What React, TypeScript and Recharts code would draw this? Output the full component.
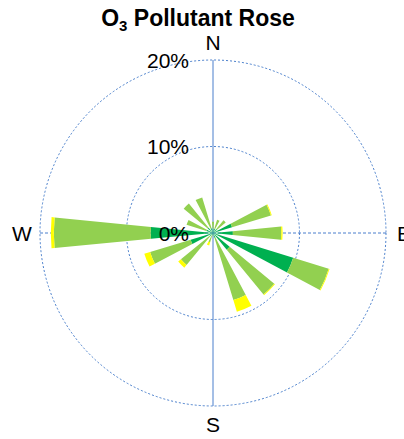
import React from 'react';
import { RadialBarChart, RadialBar, PolarAngleAxis, PolarRadiusAxis, PolarGrid } from 'recharts';

// 16 wind sectors, clockwise from north
const directions = ['N', 'NNE', 'NE', 'ENE', 'E', 'ESE', 'SE', 'SSE', 'S', 'SSW', 'SW', 'WSW', 'W', 'WNW', 'NW', 'NNW'];
// share of hours (%) in each concentration band, stacked outward
const lowBand = [0.5, 0.5, 0.6, 2.3, 2.3, 9.7, 2.5, 0.6, 0.2, 0.3, 0.5, 2.7, 7.2, 0.8, 0.8, 0.6];
const midBand = [0.8, 1.1, 1.3, 4.7, 5.6, 4.3, 6.7, 7.5, 0.2, 0.8, 4.3, 4.9, 11.2, 2.4, 3.6, 3.7];
const highBand = [0, 0, 0, 0.1, 0.15, 0.1, 0.1, 1.4, 0, 0.4, 0.4, 0.7, 0.35, 0, 0, 0];
const radiusTicks = [0, 10, 20];
const compassLabels = ['N', 'E', 'S', 'W'];

const rows = directions.map((dir, i) => ({
  dir,
  low: lowBand[i],
  mid: midBand[i],
  high: highBand[i],
}));

const CX = 213;
const CY = 233;
const FONT = '"Liberation Sans", Arial, sans-serif';
const GRID_BLUE = '#4A7FCC';
// half a sector: bars are centred on their direction, ticks sit at the band edge
const HALF_SECTOR = 360 / directions.length / 2;

function RadiusTick(props: any) {
  const { x, y, payload } = props;
  return (
    <text x={x - 24} y={y} textAnchor="end" dominantBaseline="central" fontSize={21} fontFamily={FONT} fill="#000">
      {payload.value}%
    </text>
  );
}

function CompassTick(props: any) {
  const { x, y, payload } = props;
  if (!compassLabels.includes(payload.value)) return <g />;
  const dx = x - CX;
  const dy = y - CY;
  const r = Math.hypot(dx, dy) + 10;
  const a = Math.atan2(-dy, dx) + (HALF_SECTOR * Math.PI) / 180;
  return (
    <text
      x={CX + r * Math.cos(a)}
      y={CY - r * Math.sin(a)}
      textAnchor="middle"
      dominantBaseline="central"
      fontSize={21}
      fontFamily={FONT}
      fill="#000"
    >
      {payload.value}
    </text>
  );
}

export default function App() {
  return (
    <div style={{ position: 'absolute', left: 0, top: 0, width: 404, height: 439, background: '#fff' }}>
      <div
        style={{
          position: 'absolute',
          left: 198,
          top: 7,
          transform: 'translateX(-50%)',
          whiteSpace: 'nowrap',
          fontFamily: FONT,
          fontWeight: 'bold',
          fontSize: 23,
          lineHeight: '23px',
        }}
      >
        O<span style={{ fontSize: 15, position: 'relative', top: 5 }}>3</span> Pollutant Rose
      </div>
      <RadialBarChart
        width={404}
        height={439}
        data={rows}
        layout="centric"
        cx={CX}
        cy={CY}
        innerRadius={0}
        outerRadius={173}
        startAngle={90 - HALF_SECTOR}
        endAngle={90 - HALF_SECTOR - 360}
        barCategoryGap="25%"
      >
        <PolarGrid gridType="circle" radialLines={false} stroke={GRID_BLUE} strokeDasharray="2 2" />
        <PolarGrid gridType="circle" polarAngles={[0, 180]} polarRadius={[]} stroke={GRID_BLUE} strokeDasharray="3 2" />
        <PolarAngleAxis dataKey="dir" type="category" axisLine={false} tickLine={false} tick={(p: any) => <CompassTick {...p} />} />
        <PolarRadiusAxis
          type="number"
          angle={90}
          domain={[0, 20]}
          ticks={radiusTicks}
          axisLine={false}
          tickLine={false}
          tick={(p: any) => <RadiusTick {...p} />}
        />
        <RadialBar dataKey="low" stackId="rose" fill="#00B050" isAnimationActive={false} />
        <RadialBar dataKey="mid" stackId="rose" fill="#92D050" isAnimationActive={false} />
        <RadialBar dataKey="high" stackId="rose" fill="#FFFF00" isAnimationActive={false} />
        <PolarGrid gridType="circle" polarAngles={[90, 270]} polarRadius={[]} stroke={GRID_BLUE} />
      </RadialBarChart>
    </div>
  );
}
